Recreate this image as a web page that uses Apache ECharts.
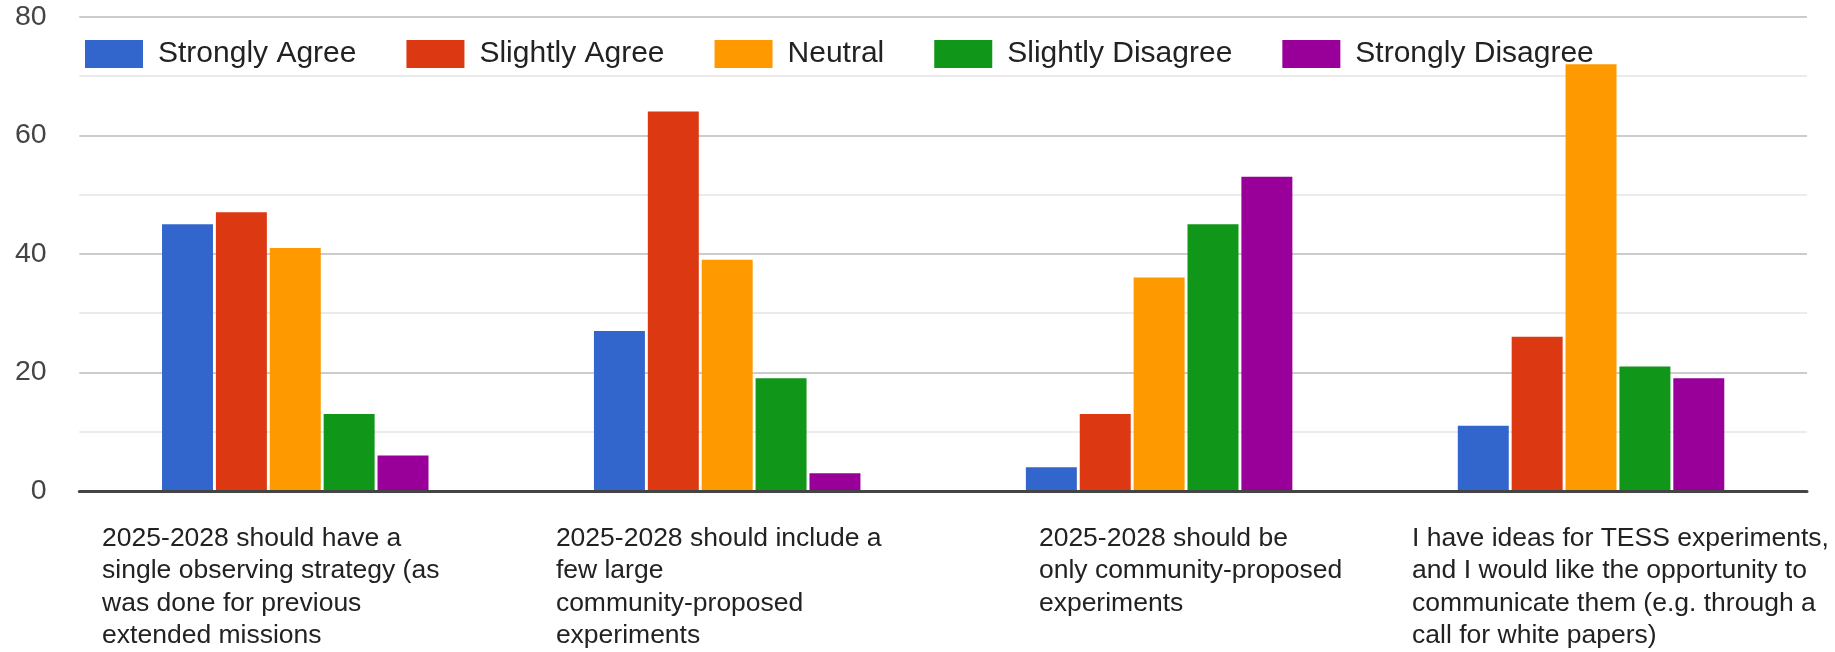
<!DOCTYPE html>
<html>
<head>
<meta charset="utf-8">
<script src="https://cdn.jsdelivr.net/npm/echarts@6/dist/echarts.min.js"></script>
<style>
  html, body { margin: 0; padding: 0; background: #ffffff; }
  #chart { width: 1835px; height: 652px; }
</style>
</head>
<body>
<div id="chart"></div>
<script>
// ---- data ----
const categories = [
  "2025-2028 should have a\nsingle observing strategy (as\nwas done for previous\nextended missions",
  "2025-2028 should include a\nfew large\ncommunity-proposed\nexperiments",
  "2025-2028 should be\nonly community-proposed\nexperiments",
  "I have ideas for TESS experiments,\nand I would like the opportunity to\ncommunicate them (e.g. through a\ncall for white papers)"
];
const seriesNames = ["Strongly Agree", "Slightly Agree", "Neutral", "Slightly Disagree", "Strongly Disagree"];
const stronglyAgree    = [45, 27, 4, 11];
const slightlyAgree    = [47, 64, 13, 26];
const neutral          = [41, 39, 36, 72];
const slightlyDisagree = [13, 19, 45, 21];
const stronglyDisagree = [6, 3, 53, 19];
const yTickLabels = ["0", "20", "40", "60", "80"];

// ---- styling ----
const colors = ["#3366cc", "#dc3912", "#ff9900", "#109618", "#990099"];
const FONT = '"Liberation Sans", Arial, sans-serif';
// horizontal shift of each wrapped label block (padding [top,right,bottom,left])
const labelPads = [[0, 49, 0, 0], [0, 17, 0, 0], [0, 0, 0, 63], [0, 0, 0, 59]];

const valuesList = [stronglyAgree, slightlyAgree, neutral, slightlyDisagree, stronglyDisagree];

const chart = echarts.init(document.getElementById('chart'), null, { renderer: 'canvas' });

const option = {
  animation: false,
  backgroundColor: '#ffffff',
  color: colors,
  textStyle: { fontFamily: FONT },
  legend: {
    left: 80,
    top: 34,
    itemWidth: 58,
    itemHeight: 28,
    itemGap: 50,
    icon: 'rect',
    textStyle: { fontSize: 30, color: '#222222', fontFamily: FONT, padding: [0, 0, 0, 10] },
    data: seriesNames
  },
  grid: { left: 79.3, right: 28, top: 16.7, bottom: 161, containLabel: false },
  xAxis: {
    type: 'category',
    z: 10,
    data: categories.map((c, i) => ({ value: c, textStyle: { padding: labelPads[i] } })),
    axisLine: { show: true, lineStyle: { color: '#444444', width: 3 } },
    axisTick: { show: false },
    axisLabel: {
      interval: 0,
      margin: 31,
      hideOverlap: false,
      align: 'center',
      formatter: function (v) {
        return v.split('\n').map(s => '{l|' + s + '}').join('\n');
      },
      rich: {
        l: { align: 'left', fontSize: 26.5, lineHeight: 32.5, color: '#222222', fontFamily: FONT }
      }
    },
    splitLine: { show: false }
  },
  yAxis: {
    type: 'value',
    min: 0,
    max: 80,
    interval: 10,
    axisLine: { show: false },
    axisTick: { show: false },
    axisLabel: {
      margin: 32.6,
      fontSize: 28.5,
      color: '#444444',
      fontFamily: FONT,
      formatter: function (v) {
        const s = String(v);
        return yTickLabels.indexOf(s) >= 0 ? s : '';
      }
    },
    splitLine: { show: true, lineStyle: { color: ['#cccccc', '#ebebeb'], width: 2 } }
  },
  series: seriesNames.map((name, i) => ({
    name: name,
    type: 'bar',
    data: valuesList[i],
    barCategoryGap: '38.3%',
    barGap: '5.7%',
    itemStyle: { color: colors[i] }
  }))
};

chart.setOption(option);
</script>
</body>
</html>
